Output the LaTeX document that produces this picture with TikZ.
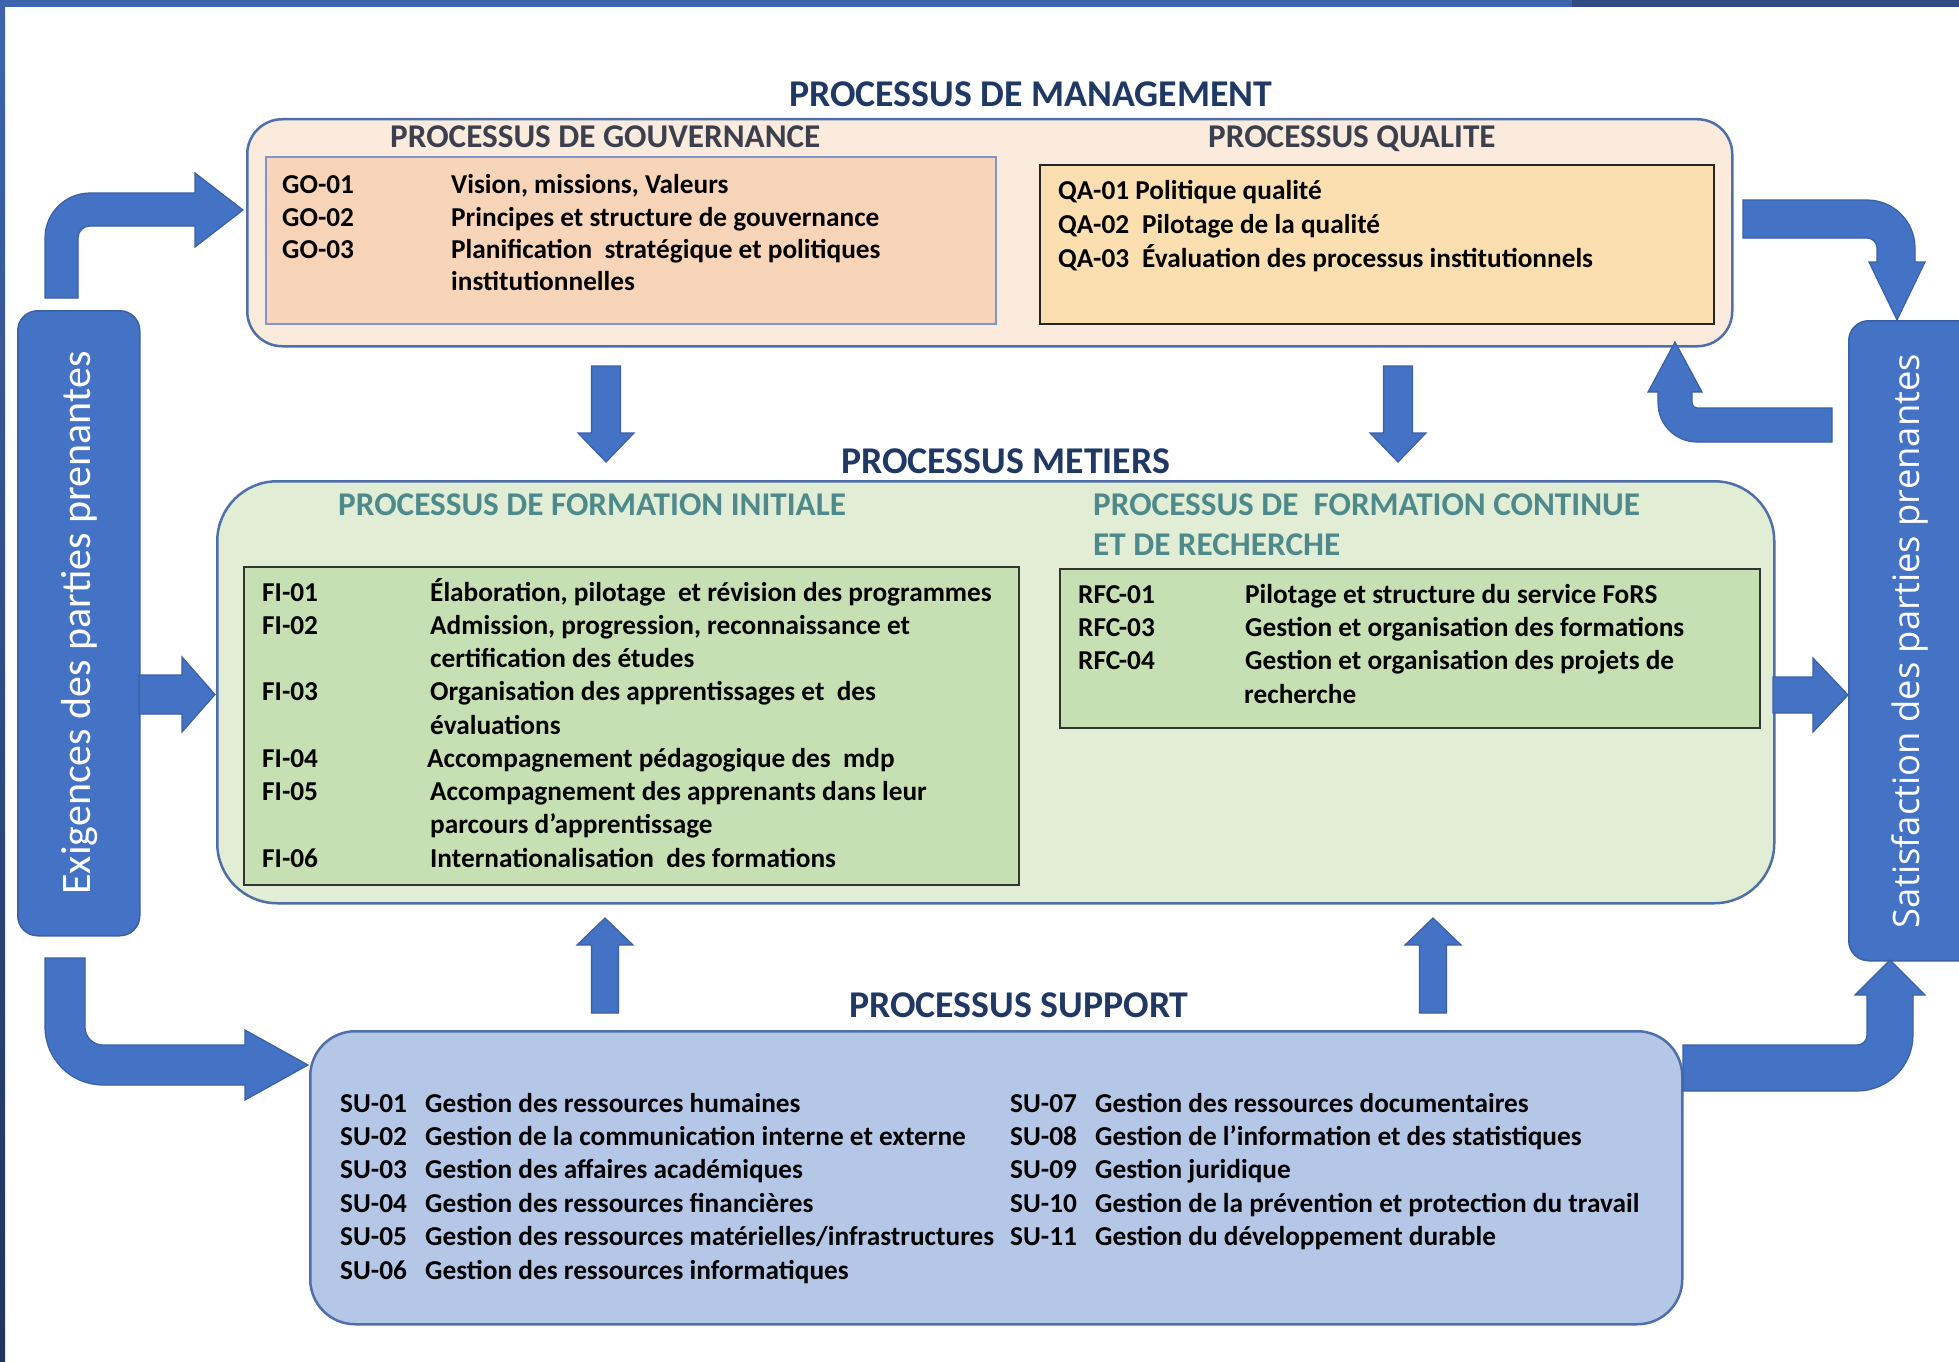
\documentclass[tikz,border=0pt]{standalone}
\usepackage{fontspec}
\setmainfont{Carlito}
\newfontfamily\segoe{Open Sans}
\definecolor{arrowblue}{HTML}{4472C4}
\definecolor{arrowedge}{HTML}{3A60A6}
\definecolor{navyhead}{HTML}{1F3864}
\definecolor{subheadc}{HTML}{3B3F4E}
\definecolor{tealhead}{HTML}{4E8A8C}
\definecolor{mgmtfill}{HTML}{FBEBDD}
\definecolor{gofill}{HTML}{F8D5B9}
\definecolor{goedge}{HTML}{7F95CC}
\definecolor{qafill}{HTML}{FCDFB0}
\definecolor{metfill}{HTML}{E2EDD5}
\definecolor{fifill}{HTML}{C6DFB3}
\definecolor{supfill}{HTML}{B4C7E7}
\definecolor{outeredge}{HTML}{4F6FAA}
\definecolor{topblue}{HTML}{3D64AE}
\definecolor{topdark}{HTML}{2F4B82}
\tikzset{
  outerbox/.style={draw=outeredge, line width=2.5pt, inner sep=0pt, anchor=north west},
  innerbox/.style={line width=1.8pt, inner sep=0pt, anchor=north west},
  sidebar/.style={fill=arrowblue, draw=arrowedge, line width=1.5pt, rounded corners=20pt, inner sep=0pt, anchor=north west},
  blockarrow/.style={fill=arrowblue, draw=arrowedge, line width=1.2pt, line join=miter},
  txt/.style={anchor=base west, inner sep=0pt, font=\bfseries\fontsize{27.3}{32}\selectfont, text=black},
  titletxt/.style={anchor=base west, inner sep=0pt, font=\bfseries\fontsize{37.8}{45}\selectfont, text=navyhead},
  subtxt/.style={anchor=base west, inner sep=0pt, font=\bfseries\fontsize{33.2}{40}\selectfont, text=subheadc},
  tealtxt/.style={anchor=base west, inner sep=0pt, font=\bfseries\fontsize{33.2}{40}\selectfont, text=tealhead},
}
\begin{document}
\begin{tikzpicture}[x=1pt,y=-1pt]
\useasboundingbox (0,0) rectangle (1959,1362);
\clip (0,0) rectangle (1959,1362);
\fill[white] (0,0) rectangle (1959,1362);
% frame of the screenshot
\fill[topblue] (0,0) rectangle (1572,7);
\fill[topdark] (1572,0) rectangle (1959,7);
\shade[top color=topblue, bottom color=topdark!70!black] (0,0) rectangle (5,1362);

% ---------- boxes ----------
\node[outerbox, fill=mgmtfill, rounded corners=35pt, minimum width=1485pt, minimum height=227pt] (mgmt) at (246,118) {};
\node[innerbox, fill=gofill, draw=goedge, minimum width=730pt, minimum height=167pt] (gobox) at (265,156) {};
\node[innerbox, fill=qafill, draw=black!85, minimum width=674pt, minimum height=159pt] (qabox) at (1039,164) {};

\node[outerbox, fill=metfill, rounded corners=60pt, minimum width=1557pt, minimum height=422pt] (metiers) at (216,480) {};
\node[innerbox, fill=fifill, draw=black!80, minimum width=775pt, minimum height=318pt] (fibox) at (243,566) {};
\node[innerbox, fill=fifill, draw=black!80, minimum width=700pt, minimum height=159pt] (rfcbox) at (1059,568) {};

\node[outerbox, fill=supfill, rounded corners=45pt, minimum width=1372pt, minimum height=293pt] (support) at (309,1030) {};

% ---------- side bars ----------
\node[sidebar, minimum width=122pt, minimum height=625pt] (leftbar) at (17,310) {};
\node[sidebar, minimum width=130pt, minimum height=640pt] (rightbar) at (1848,320) {};
\node[rotate=90, text=white, inner sep=0pt, font=\fontsize{42}{48}\selectfont] (exig) at (80,623) {Exigences des parties prenantes};
\node[rotate=90, text=white, inner sep=0pt, font=\segoe\fontsize{36.4}{44}\selectfont] (satis) at (1910,641) {Satisfaction des parties prenantes};

% ---------- block arrows ----------
% left bar -> management
\draw[blockarrow] (45,298) -- (45,238) .. controls (45,213.2) and (65.2,193) .. (90,193) -- (195,193) -- (195,173) -- (243,210) -- (195,247) -- (195,226) -- (90,226) .. controls (83.4,226) and (78,231.4) .. (78,238) -- (78,298) -- cycle;
% left bar -> metiers
\draw[blockarrow] (139,675) -- (182,675) -- (182,657) -- (215,694.5) -- (182,732) -- (182,714) -- (139,714) -- cycle;
% left bar -> support
\draw[blockarrow] (45,958) -- (45,1027) .. controls (45,1059) and (71,1085) .. (103,1085) -- (245,1085) -- (245,1100) -- (308,1065) -- (245,1030) -- (245,1045) -- (103,1045) .. controls (93.1,1045) and (85,1036.9) .. (85,1027) -- (85,958) -- cycle;
% metiers -> right bar
\draw[blockarrow] (1773,677) -- (1813,677) -- (1813,658) -- (1848,695) -- (1813,732) -- (1813,713) -- (1773,713) -- cycle;
% management -> right bar
\draw[blockarrow] (1743,200) -- (1867,200) .. controls (1893.5,200) and (1915,221.5) .. (1915,248) -- (1915,262) -- (1925,262) -- (1897,320) -- (1869,262) -- (1877,262) -- (1877,248) .. controls (1877,242.5) and (1872.5,238) .. (1867,238) -- (1743,238) -- cycle;
% right bar -> management
\draw[blockarrow] (1832,408) -- (1697,408) .. controls (1694.2,408) and (1692,405.8) .. (1692,403) -- (1692,392) -- (1702,392) -- (1675,342) -- (1648,392) -- (1658,392) -- (1658,403) .. controls (1658,424.5) and (1675.5,442) .. (1697,442) -- (1832,442) -- cycle;
% support -> right bar
\draw[blockarrow] (1683,1045) -- (1857,1045) .. controls (1862.5,1045) and (1867,1040.5) .. (1867,1035) -- (1867,995) -- (1855,995) -- (1890,960) -- (1925,995) -- (1913,995) -- (1913,1035) .. controls (1913,1065.9) and (1887.9,1091) .. (1857,1091) -- (1683,1091) -- cycle;
% management -> metiers (down)
\foreach \cx in {606,1398}{
  \draw[blockarrow] ({\cx-14.5},366) -- ({\cx+14.5},366) -- ({\cx+14.5},433) -- ({\cx+28},433) -- (\cx,462) -- ({\cx-28},433) -- ({\cx-14.5},433) -- cycle;
}
% support -> metiers (up)
\foreach \cx in {605,1433}{
  \draw[blockarrow] ({\cx-13.5},1013) -- ({\cx+13.5},1013) -- ({\cx+13.5},945) -- ({\cx+28},945) -- (\cx,918) -- ({\cx-28},945) -- ({\cx-13.5},945) -- cycle;
}

% ---------- titles ----------
\node[titletxt] (tmgmt) at (789,107) {PROCESSUS DE MANAGEMENT};
\node[titletxt] (tmet) at (841,473) {PROCESSUS METIERS};
\node[titletxt] (tsup) at (849,1017) {PROCESSUS SUPPORT};
\node[subtxt] (sgov) at (390,147) {PROCESSUS DE GOUVERNANCE};
\node[subtxt] (sqa) at (1208,147) {PROCESSUS QUALITE};
\node[tealtxt] (sfi) at (338,515) {PROCESSUS DE FORMATION INITIALE};
\node[tealtxt] (srfca) at (1093,515) {PROCESSUS DE~ FORMATION CONTINUE};
\node[tealtxt] (srfcb) at (1093,555) {ET DE RECHERCHE};

% ---------- gouvernance ----------
\node[txt] (goc1) at (282,193) {GO-01};
\node[txt] (goc2) at (282,226) {GO-02};
\node[txt] (goc3) at (282,258) {GO-03};
\node[txt] (god1) at (451,193) {Vision, missions, Valeurs};
\node[txt] (god2) at (451,226) {Principes et structure de gouvernance};
\node[txt] (god3) at (451,258) {Planification~ stratégique et politiques};
\node[txt] (god4) at (451,290) {institutionnelles};

% ---------- qualite ----------
\node[txt] (qa1) at (1058,199) {QA-01 Politique qualité};
\node[txt] (qac2) at (1058,233) {QA-02};
\node[txt] (qad2) at (1142,233) {Pilotage de la qualité};
\node[txt] (qac3) at (1058,267) {QA-03};
\node[txt] (qad3) at (1142,267) {Évaluation des processus institutionnels};

% ---------- formation initiale ----------
\node[txt] (fic1) at (262,601) {FI-01};
\node[txt] (fic2) at (262,634.25) {FI-02};
\node[txt] (fic3) at (262,700.75) {FI-03};
\node[txt] (fic4) at (262,767.25) {FI-04};
\node[txt] (fic5) at (262,800.5) {FI-05};
\node[txt] (fic6) at (262,867) {FI-06};
\node[txt] (fid1) at (430,601) {Élaboration, pilotage~ et révision des programmes};
\node[txt] (fid2) at (430,634.25) {Admission, progression, reconnaissance et};
\node[txt] (fid2b) at (430,667.5) {certification des études};
\node[txt] (fid3) at (430,700.75) {Organisation des apprentissages et~ des};
\node[txt] (fid3b) at (430,734) {évaluations};
\node[txt] (fid4) at (427,767.25) {Accompagnement pédagogique des~ mdp};
\node[txt] (fid5) at (430,800.5) {Accompagnement des apprenants dans leur};
\node[txt] (fid5b) at (430,833.75) {parcours d’apprentissage};
\node[txt] (fid6) at (430,867) {Internationalisation~ des formations};

% ---------- formation continue et recherche ----------
\node[txt] (rfcc1) at (1078,603) {RFC-01};
\node[txt] (rfcc3) at (1078,636.3) {RFC-03};
\node[txt] (rfcc4) at (1078,669.6) {RFC-04};
\node[txt] (rfcd1) at (1245,603) {Pilotage et structure du service FoRS};
\node[txt] (rfcd3) at (1245,636.3) {Gestion et organisation des formations};
\node[txt] (rfcd4) at (1245,669.6) {Gestion et organisation des projets de};
\node[txt] (rfcd4b) at (1244,703) {recherche};

% ---------- support ----------
\node[txt] (suc1) at (340,1112) {SU-01};
\node[txt] (suc2) at (340,1145.4) {SU-02};
\node[txt] (suc3) at (340,1178.8) {SU-03};
\node[txt] (suc4) at (340,1212.2) {SU-04};
\node[txt] (suc5) at (340,1245.6) {SU-05};
\node[txt] (suc6) at (340,1279) {SU-06};
\node[txt] (sud1) at (425,1112) {Gestion des ressources humaines};
\node[txt] (sud2) at (425,1145.4) {Gestion de la communication interne et externe};
\node[txt] (sud3) at (425,1178.8) {Gestion des affaires académiques};
\node[txt] (sud4) at (425,1212.2) {Gestion des ressources financières};
\node[txt] (sud5) at (425,1245.6) {Gestion des ressources matérielles/infrastructures};
\node[txt] (sud6) at (425,1279) {Gestion des ressources informatiques};
\node[txt] (suc7) at (1010,1112) {SU-07};
\node[txt] (suc8) at (1010,1145.4) {SU-08};
\node[txt] (suc9) at (1010,1178.8) {SU-09};
\node[txt] (suc10) at (1010,1212.2) {SU-10};
\node[txt] (suc11) at (1010,1245.6) {SU-11};
\node[txt] (sud7) at (1095,1112) {Gestion des ressources documentaires};
\node[txt] (sud8) at (1095,1145.4) {Gestion de l’information et des statistiques};
\node[txt] (sud9) at (1095,1178.8) {Gestion juridique};
\node[txt] (sud10) at (1095,1212.2) {Gestion de la prévention et protection du travail};
\node[txt] (sud11) at (1095,1245.6) {Gestion du développement durable};
\end{tikzpicture}
\end{document}
